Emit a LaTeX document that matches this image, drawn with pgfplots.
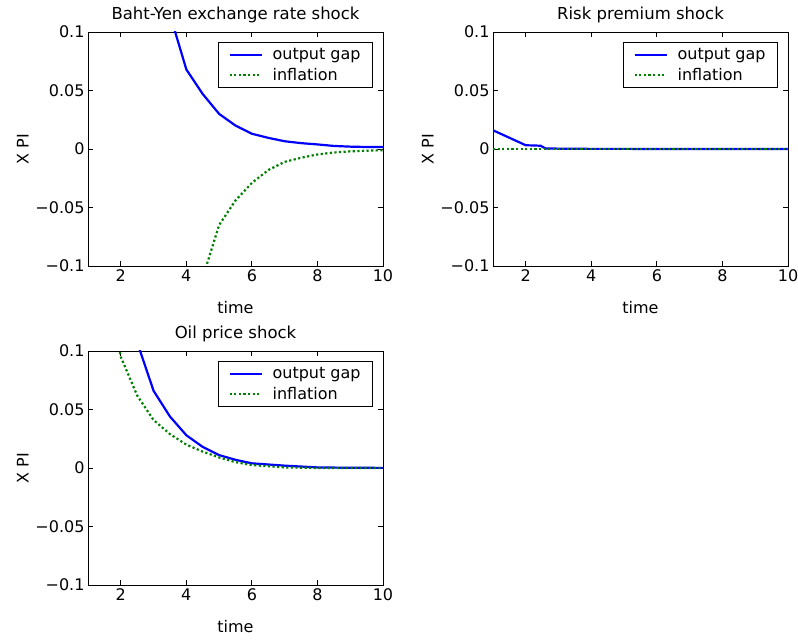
\documentclass[border=0pt]{standalone}
\usepackage{fontspec}
\setmainfont{DejaVu Sans}
\usepackage{pgfplots}
\pgfplotsset{compat=1.18}

\definecolor{mblue}{RGB}{0,0,255}
\definecolor{mgreen}{RGB}{0,128,0}

\pgfplotsset{
  irf/.style={
    scale only axis, width=295pt, height=234pt,
    xmin=1, xmax=10, ymin=-0.1, ymax=0.1,
    xtick={2,4,6,8,10}, xticklabels={2,4,6,8,10},
    ytick={-0.1,-0.05,0,0.05,0.1},
    yticklabels={−0.1,−0.05,0,0.05,0.1},
    tick align=inside, major tick length=5pt,
    tick style={black, line width=0.8pt},
    axis line style={line width=0.8pt},
    every tick label/.append style={font=\fontsize{16}{19}\selectfont},
    label style={font=\fontsize{16}{19}\selectfont},
    title style={font=\fontsize{16.5}{19}\selectfont},
    xlabel=time, ylabel={X PI},
    xlabel style={yshift=-13pt},
    legend style={at={(1,1)}, xshift=-10pt, yshift=-10pt, anchor=north east,
      draw=black, line width=0.8pt, font=\fontsize{16}{19}\selectfont,
      inner xsep=10pt, inner ysep=4pt, row sep=3pt},
    legend cell align=left,
    legend image code/.code={\draw[#1] (0pt,0pt) -- (32pt,0pt); \path (40pt,0pt);},
  },
  gap/.style={mblue, line width=2.2pt},
  infl/.style={mgreen, line width=2.2pt, dash pattern=on 2.2pt off 2.4pt},
}

\begin{document}
\begin{tikzpicture}
\useasboundingbox (0pt,0pt) rectangle (798pt,642pt);

\begin{axis}[irf, at={(88pt,376pt)}, anchor=south west,
  title={Baht-Yen exchange rate shock}]
\addplot[gap] coordinates {(1,0.6)(2,0.32)(3,0.15)(3.5,0.115)(4,0.068)(4.5,0.047)(5,0.030)(5.5,0.020)(6,0.013)(6.5,0.0095)(7,0.0066)(7.5,0.005)(8,0.0039)(8.5,0.0026)(9,0.002)(9.5,0.0017)(10,0.0017)};
\addplot[infl] coordinates {(1,-0.9)(2,-0.5)(3,-0.3)(4,-0.17)(4.5,-0.11)(5,-0.065)(5.5,-0.044)(6,-0.029)(6.5,-0.018)(7,-0.011)(7.5,-0.0075)(8,-0.0047)(8.5,-0.003)(9,-0.002)(9.5,-0.0015)(10,-0.001)};
\legend{output gap, inflation}
\end{axis}

\begin{axis}[irf, at={(493pt,376pt)}, anchor=south west,
  title={Risk premium shock}]
\addplot[gap] coordinates {(1,0.016)(2,0.0032)(2.45,0.0028)(2.6,0.0005)(3,0.0003)(4,0.0001)(10,0)};
\addplot[infl] coordinates {(1,0)(2,0)(4,0)(6,0)(8,0)(10,0)};
\legend{output gap, inflation}
\end{axis}

\begin{axis}[irf, at={(88pt,57pt)}, anchor=south west,
  title={Oil price shock}]
\addplot[gap] coordinates {(1,0.35)(2,0.149)(3,0.066)(3.5,0.044)(4,0.028)(4.5,0.018)(5,0.011)(5.5,0.007)(6,0.004)(7,0.002)(8,0.0005)(9,0.0002)(10,0.0001)};
\addplot[infl] coordinates {(1,0.25)(2,0.095)(2.5,0.062)(3,0.041)(3.5,0.029)(4,0.020)(4.5,0.014)(5,0.009)(5.5,0.005)(6,0.0025)(7,0.0005)(8,0)(10,0)};
\legend{output gap, inflation}
\end{axis}
\end{tikzpicture}
\end{document}
